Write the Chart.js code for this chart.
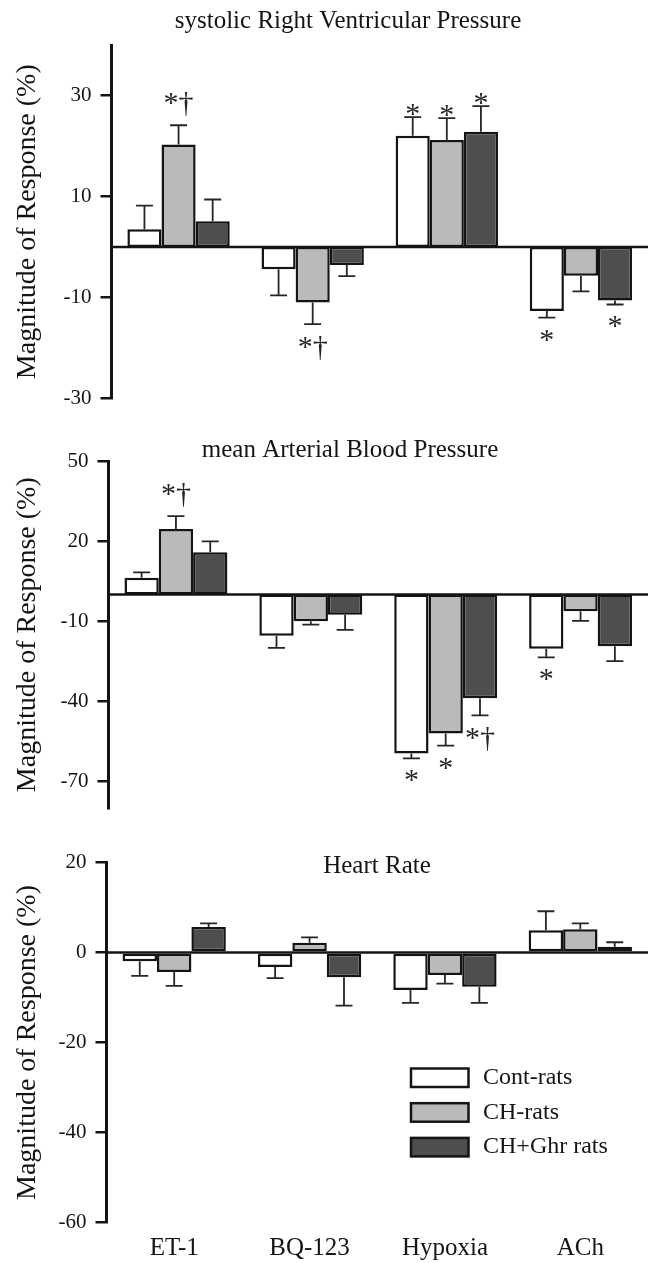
<!DOCTYPE html>
<html lang="en">
<head>
<meta charset="UTF-8">
<title>Magnitude of Response</title>
<script src="https://cdn.jsdelivr.net/npm/chart.js"></script>
<style>
  body { margin: 0; background: #fff; }
  canvas { display: block; }
</style>
</head>
<body>
<canvas id="rvp" width="648" height="420"></canvas>
<canvas id="mabp" width="648" height="410"></canvas>
<canvas id="hr" width="648" height="433"></canvas>
<script>
const categories = ['ET-1', 'BQ-123', 'Hypoxia', 'ACh'];
const groups = ['Cont-rats', 'CH-rats', 'CH+Ghr rats'];
const fills = ['#ffffff', '#bababa', '#4e4e4e'];

// systolic right ventricular pressure
const rvpCont = [3.5, -4.4, 22.0, -12.7];
const rvpCH = [20.3, -11.0, 21.2, -5.7];
const rvpGhr = [5.1, -3.6, 22.8, -10.6];
const rvpContErr = [4.7, 5.2, 3.7, 1.3];
const rvpCHErr = [3.8, 4.3, 4.3, 3.1];
const rvpGhrErr = [4.3, 2.2, 5.1, 0.8];
const rvpTicks = [-30, -10, 10, 30];
// [group, category, text]
const rvpMarks = [[1, 0, '*†'], [0, 2, '*'], [1, 2, '*'], [2, 2, '*'], [1, 1, '*†'], [0, 3, '*'], [2, 3, '*']];

// mean arterial blood pressure
const mabpCont = [6.3, -15.4, -59.5, -20.3];
const mabpCH = [24.6, -10.0, -52.0, -6.2];
const mabpGhr = [15.9, -7.5, -38.8, -19.3];
const mabpContErr = [2.0, 4.5, 1.8, 3.2];
const mabpCHErr = [4.8, 1.2, 4.5, 3.6];
const mabpGhrErr = [4.0, 5.7, 6.4, 5.6];
const mabpTicks = [-70, -40, -10, 20, 50];
const mabpMarks = [[1, 0, '*†'], [0, 2, '*'], [1, 2, '*'], [2, 2, '*†'], [0, 3, '*']];

// heart rate
const hrCont = [-1.9, -3.2, -8.3, 5.0];
const hrCH = [-4.3, 2.2, -5.0, 5.2];
const hrGhr = [5.7, -5.5, -7.6, 1.3];
const hrContErr = [3.3, 2.5, 2.9, 4.2];
const hrCHErr = [3.1, 1.2, 1.9, 1.3];
const hrGhrErr = [0.8, 6.3, 3.6, 1.0];
const hrTicks = [-60, -40, -20, 0, 20];

const SERIF = '"Liberation Serif", "Times New Roman", serif';
const INK = '#141414';

function panelPlugin(p) {
    return {
        id: 'panel',
        afterDatasetsDraw(chart) {
            const { ctx, chartArea: area } = chart;
            const y = chart.scales.y;
            const zero = y.getPixelForValue(0);
            ctx.save();

            // zero line
            ctx.strokeStyle = INK;
            ctx.lineWidth = 2.5;
            ctx.beginPath();
            ctx.moveTo(area.left, zero);
            ctx.lineTo(area.right, zero);
            ctx.stroke();

            // one-sided error bars
            const errEnd = (i, j) => {
                const v = chart.data.datasets[i].data[j];
                return y.getPixelForValue(v + Math.sign(v) * p.errors[i][j]);
            };
            ctx.strokeStyle = '#262626';
            ctx.lineWidth = 1.8;
            chart.data.datasets.forEach((ds, i) => {
                chart.getDatasetMeta(i).data.forEach((bar, j) => {
                    const end = errEnd(i, j);
                    ctx.beginPath();
                    ctx.moveTo(bar.x, bar.y);
                    ctx.lineTo(bar.x, end);
                    ctx.moveTo(bar.x - 8.5, end);
                    ctx.lineTo(bar.x + 8.5, end);
                    ctx.stroke();
                });
            });

            // significance marks
            ctx.fillStyle = '#262626';
            ctx.font = '30px ' + SERIF;
            ctx.textAlign = 'center';
            ctx.textBaseline = 'alphabetic';
            (p.marks || []).forEach(([i, j, text]) => {
                const v = chart.data.datasets[i].data[j];
                const bar = chart.getDatasetMeta(i).data[j];
                const end = errEnd(i, j);
                const m = ctx.measureText(text);
                if (v > 0) {
                    const gap = text.length > 1 ? 9 : 2;
                    ctx.fillText(text, bar.x, end - gap - m.actualBoundingBoxDescent);
                } else {
                    ctx.fillText(text, bar.x, end + 12 + m.actualBoundingBoxAscent);
                }
            });

            // panel title
            ctx.fillStyle = INK;
            ctx.font = '25px ' + SERIF;
            ctx.textBaseline = 'middle';
            ctx.fillText(p.title, p.titleX, p.titleY);

            // legend (heart rate panel only)
            if (p.legend) {
                const L = p.legend;
                ctx.textAlign = 'left';
                ctx.font = '24px ' + SERIF;
                chart.data.datasets.forEach((ds, i) => {
                    const top = L.y + i * L.step;
                    ctx.fillStyle = ds.backgroundColor;
                    ctx.fillRect(L.x, top, L.w, L.h);
                    ctx.strokeStyle = INK;
                    ctx.lineWidth = 2.5;
                    ctx.strokeRect(L.x, top, L.w, L.h);
                    ctx.fillStyle = INK;
                    ctx.fillText(ds.label, L.textX, top + L.h / 2);
                });
            }
            ctx.restore();
        }
    };
}

function makeChart(id, values, p) {
    return new Chart(document.getElementById(id), {
        type: 'bar',
        data: {
            labels: categories,
            datasets: groups.map((g, i) => ({
                label: g,
                data: values[i],
                backgroundColor: fills[i],
                borderColor: INK,
                borderWidth: 2.5,
                borderSkipped: false,
                categoryPercentage: 0.763,
                barPercentage: 1
            }))
        },
        options: {
            responsive: false,
            animation: false,
            events: [],
            layout: { padding: { top: p.padTop, bottom: p.padBottom, left: 0, right: 0 } },
            plugins: { legend: { display: false }, tooltip: { enabled: false } },
            scales: {
                x: {
                    display: p.showX,
                    grid: { display: false },
                    border: { display: false },
                    ticks: { padding: 3, color: INK, font: { family: SERIF, size: 25 } },
                    afterFit: s => { s.height = p.xHeight || s.height; }
                },
                y: {
                    min: p.min,
                    max: p.max,
                    afterBuildTicks: s => { s.ticks = p.ticks.map(v => ({ value: v })); },
                    afterFit: s => { s.width = p.axisLeft; },
                    grid: { drawOnChartArea: false, tickLength: 11, lineWidth: 2.5, color: INK },
                    border: { color: INK, width: 3 },
                    ticks: { padding: 9, color: INK, font: { family: SERIF, size: 21 } },
                    title: {
                        display: true,
                        text: 'Magnitude of Response (%)',
                        color: INK,
                        font: { family: SERIF, size: 28 },
                        padding: { top: 11, bottom: 0 }
                    }
                }
            }
        },
        plugins: [panelPlugin(p)]
    });
}

makeChart('rvp', [rvpCont, rvpCH, rvpGhr], {
    min: -30, max: 40, ticks: rvpTicks,
    errors: [rvpContErr, rvpCHErr, rvpGhrErr], marks: rvpMarks,
    title: 'systolic Right Ventricular Pressure', titleX: 348, titleY: 21,
    padTop: 45, padBottom: 15, axisLeft: 111.5, showX: false
});

makeChart('mabp', [mabpCont, mabpCH, mabpGhr], {
    min: -80, max: 50, ticks: mabpTicks,
    errors: [mabpContErr, mabpCHErr, mabpGhrErr], marks: mabpMarks,
    title: 'mean Arterial Blood Pressure', titleX: 350, titleY: 30,
    padTop: 41, padBottom: 8.5, axisLeft: 108.5, showX: false
});

makeChart('hr', [hrCont, hrCH, hrGhr], {
    min: -60, max: 20, ticks: hrTicks,
    errors: [hrContErr, hrCHErr, hrGhrErr], marks: [],
    title: 'Heart Rate', titleX: 377, titleY: 36,
    padTop: 32.7, padBottom: 0, axisLeft: 106.5, showX: true, xHeight: 40.7,
    legend: { x: 411, y: 238.5, w: 57.5, h: 18.5, step: 34.7, textX: 483 }
});
</script>
</body>
</html>
